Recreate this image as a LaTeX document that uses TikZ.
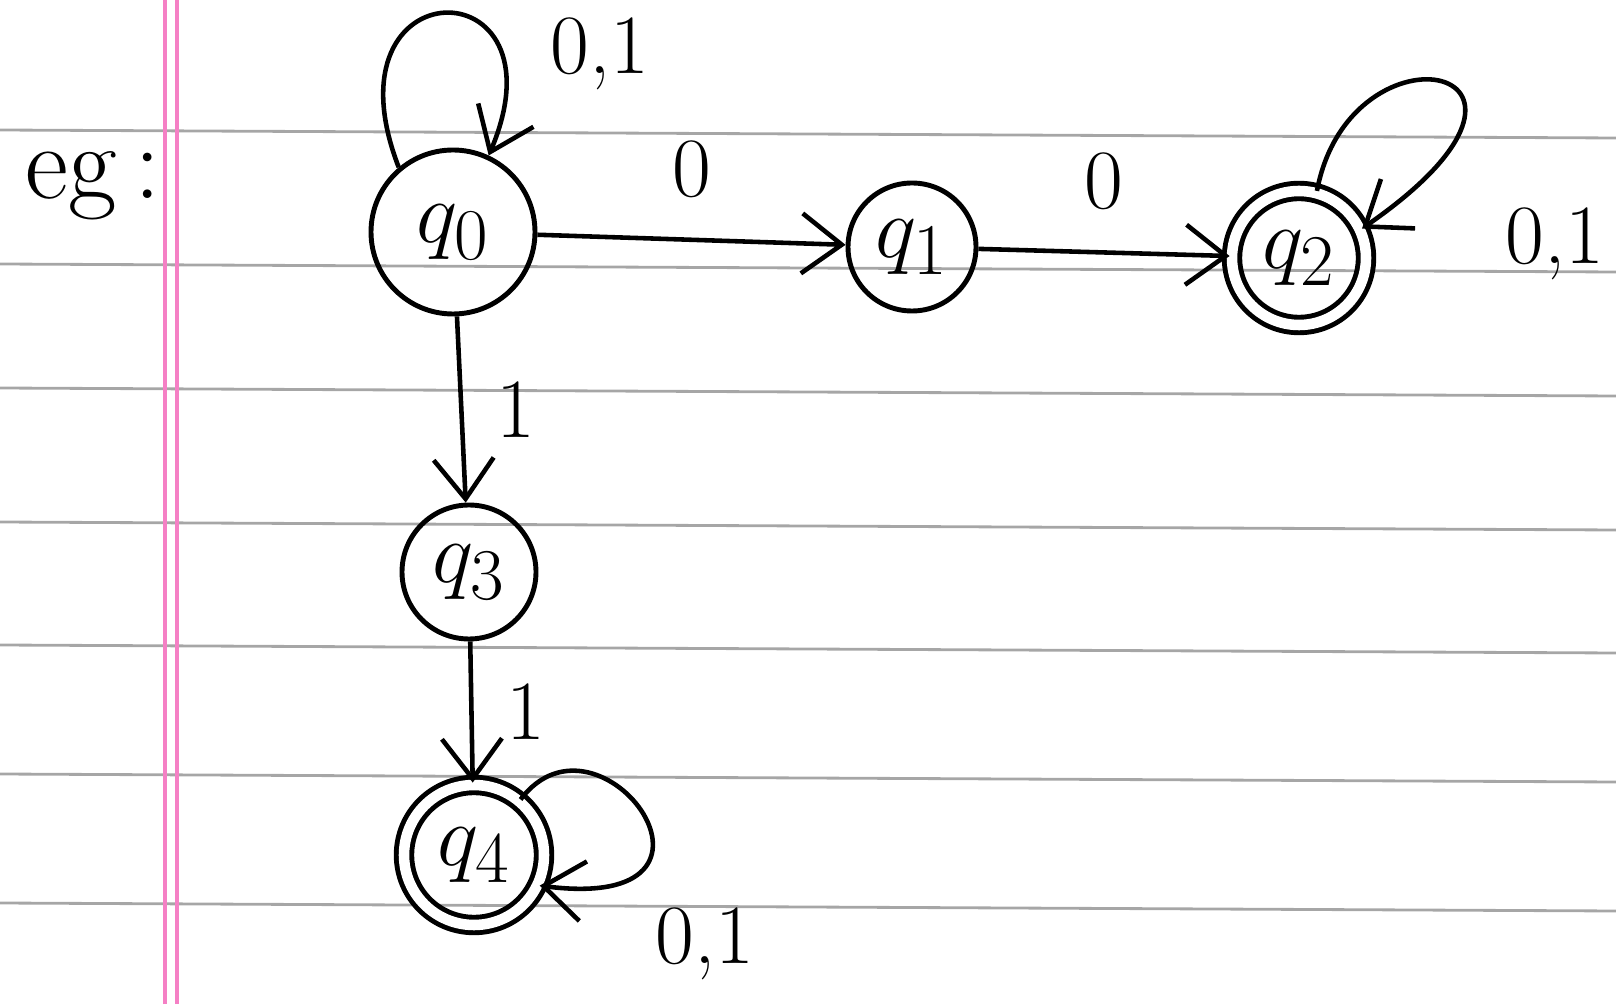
\documentclass[tikz,border=0pt]{standalone}
\usepackage{amsmath,amssymb}
\usetikzlibrary{arrows.meta,positioning,calc}

\tikzset{
  state/.style={circle,draw,line width=1.4pt,inner sep=0pt,font=\fontsize{28}{30}\selectfont},
  accept/.style={state,double,double distance=3pt},
  trans/.style={line width=1.3pt,-{Straight Barb[length=4mm,width=6mm]}},
  lbl/.style={font=\fontsize{24}{26}\selectfont},
  rule/.style={draw=gray!70,line width=0.8pt},
}

\begin{document}
\begin{tikzpicture}
  \useasboundingbox (0,0) rectangle (16.16,10.04);
  % ruled paper
  \foreach \y in {8.70,7.36,6.12,4.78,3.55,2.26,0.97}{\draw[rule] (0,\y+0.04)--(16.16,\y-0.04);}
  \draw[magenta!50,line width=1pt] (1.65,0)--(1.65,10.04);
  \draw[magenta!50,line width=1pt] (1.77,0)--(1.77,10.04);
  \node[font=\fontsize{30}{32}\selectfont] (eg) at (0.93,8.18) {eg\,:};

  % states
  \node[state,minimum size=1.64cm] (q0) at (4.53,7.72) {$q_0$};
  \node[state,minimum size=1.28cm] (q1) at (9.12,7.57) {$q_1$};
  \node[accept,minimum size=1.34cm] (q2) at (12.99,7.46) {$q_2$};
  \node[state,minimum size=1.34cm] (q3) at (4.69,4.32) {$q_3$};
  \node[accept,minimum size=1.40cm] (q4) at (4.74,1.49) {$q_4$};

  % transitions
  \draw[trans] (q0) -- node[lbl,above=8pt] {0} (q1);
  \draw[trans] (q1) -- node[lbl,above=8pt] {0} (q2);
  \draw[trans] (q0) -- node[lbl,right=6pt] {1} (q3);
  \draw[trans] (q3) -- node[lbl,right=6pt] {1} (q4);
  \draw[trans] (q0.130) .. controls (3.2,10.4) and (5.7,10.4) .. (q0.65);
  \node[lbl] (l0) at (6.0,9.5) {0,1};
  \draw[trans] (q2.75) .. controls (13.5,9.9) and (16.0,9.4) .. (q2.25);
  \node[lbl] (l2) at (15.55,7.60) {0,1};
  \draw[trans] (q4.50) .. controls (6.0,3.1) and (7.6,0.9) .. (q4.-25);
  \node[lbl] (l4) at (7.05,0.60) {0,1};
\end{tikzpicture}
\end{document}
